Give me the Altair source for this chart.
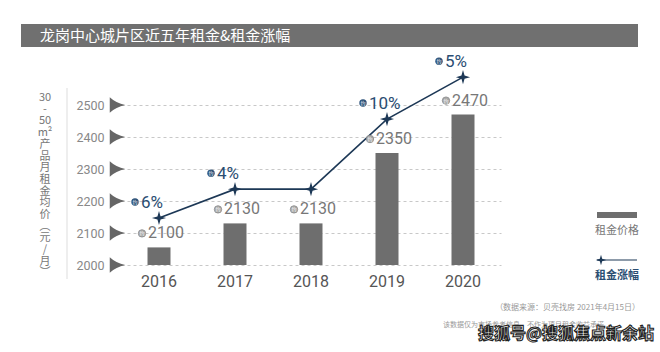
import altair as alt
import pandas as pd

# ---- data ----
years = ["2016", "2017", "2018", "2019", "2020"]
bar_values = [2055, 2130, 2130, 2350, 2470]          # bar heights as drawn
price_labels = ["2100", "2130", "2130", "2350", "2470"]
line_values = [2147, 2237, 2237, 2456, 2587]         # growth line as drawn on the price axis
pct_labels = ["6%", "4%", "", "10%", "5%"]
y_ticks = [2000, 2100, 2200, 2300, 2400, 2500]
y_title_lines = ["30", "-", "50", "m²", "产", "品", "月", "租", "金", "均", "价",
                 "︵", "元", "/", "月", "︶"]
title_text = "龙岗中心城片区近五年租金&租金涨幅"
legend_labels = ["租金价格", "租金涨幅"]
source_note = "（数据来源：贝壳找房 2021年4月15日）"
disclaimer = "该数据仅为市场参考信息，不作为项目租金收益承诺"
watermark = "搜狐号@搜狐焦点新余站"

df = pd.DataFrame({"year": years, "bar": bar_values, "price": price_labels,
                   "line": line_values, "pct": pct_labels})
ticks_df = pd.DataFrame({"bar": y_ticks})
one = pd.DataFrame({"k": [0]})

NUM_FONT = "Roboto"
CJK = "Noto Sans CJK SC"
NAVY = "#1d3856"
BAR = "#6e6e6e"

xscale = alt.Scale(paddingInner=0, paddingOuter=0)
yscale = alt.Scale(domain=[2000, 2600], nice=False, zero=False)

x_axis = alt.Axis(title=None, labelAngle=0, ticks=False, domain=False, labelPadding=8,
                  labelFont=NUM_FONT, labelFontSize=16, labelColor="#555")
y_axis = alt.Axis(title=None, values=y_ticks, format="d", grid=True, gridDash=[3, 3],
                  gridColor="#c8c8c8", domain=False, ticks=False, labelPadding=17,
                  labelFont=NUM_FONT, labelFontSize=12.5, labelColor="#888")

X = alt.X("year:N", scale=xscale, axis=x_axis, sort=years, title=None)


def Y(field):
    return alt.Y(field, scale=yscale, axis=y_axis, title=None)


bars = alt.Chart(df).mark_bar(size=23, color=BAR).encode(
    x=X, y=Y("bar:Q"), y2=alt.datum(2000))

tri_path = "M -1 -1 Q -0.2 -0.25 1 0 Q -0.2 0.25 -1 1 Z"
triangles = alt.Chart(ticks_df).mark_point(shape=tri_path, filled=True, size=240,
                                           color="#666", opacity=1).encode(
    x=alt.value(-3.5), y=Y("bar:Q"))

line = alt.Chart(df).mark_line(color=NAVY, strokeWidth=1.6).encode(
    x=X, y=Y("line:Q"))

star_path = "M0,-1 L0.22,-0.22 L1,0 L0.22,0.22 L0,1 L-0.22,0.22 L-1,0 L-0.22,-0.22 Z"
stars = alt.Chart(df).mark_point(shape=star_path, filled=True, size=200, color=NAVY,
                                 opacity=1).encode(x=X, y=Y("line:Q"))

pct_base = alt.Chart(df).transform_filter("datum.pct != ''")
pct_text = pct_base.mark_text(align="left", baseline="middle", dx=-18, dy=-15,
                              font=NUM_FONT, fontSize=17, color="#2a4d72").encode(
    x=X, y=Y("line:Q"), text="pct:N")
pct_icon = pct_base.mark_point(shape="circle", filled=True, size=55, color="#2d5279",
                               opacity=1, xOffset=-24, yOffset=-16).encode(
    x=X, y=Y("line:Q"))
pct_icon_t = pct_base.mark_text(text="约", fontSize=5, color="white", font=CJK,
                                dx=-24, dy=-16).encode(x=X, y=Y("line:Q"))

price_text = alt.Chart(df).mark_text(align="left", baseline="middle", dx=-11, dy=-14,
                                     font=NUM_FONT, fontSize=16, color="#777").encode(
    x=X, y=Y("bar:Q"), text="price:N")
price_icon = alt.Chart(df).mark_point(shape="circle", filled=True, size=55, color="#a8a8a8",
                                      stroke="#8a8a8a", strokeWidth=0.8,
                                      opacity=1, xOffset=-17, yOffset=-14).encode(
    x=X, y=Y("bar:Q"))
price_icon_t = alt.Chart(df).mark_text(text="约", fontSize=5, color="white", font=CJK,
                                       dx=-17, dy=-14).encode(x=X, y=Y("bar:Q"))

# ---- decorations ----
title_bar = alt.Chart(one).mark_rect(color="#707070").encode(
    x=alt.value(-100), x2=alt.value(517), y=alt.value(-49), y2=alt.value(-26))
title = alt.Chart(one).mark_text(text=title_text, align="left", baseline="middle",
                                 font=CJK, fontSize=15, color="white").encode(
    x=alt.value(-81), y=alt.value(-37.5))

sep = alt.Chart(one).mark_rule(color="#dddddd", strokeWidth=1).encode(
    x=alt.value(-54), y=alt.value(15), y2=alt.value(206))
ytitle = alt.Chart(one).mark_text(text="\n".join(y_title_lines), lineBreak="\n",
                                  lineHeight=11.7, align="center", baseline="top",
                                  font=CJK, fontSize=11, color="#777").encode(
    x=alt.value(-76), y=alt.value(19))

leg_rect = alt.Chart(one).mark_rect(color=BAR).encode(
    x=alt.value(476), x2=alt.value(516), y=alt.value(139), y2=alt.value(145))
leg_t1 = alt.Chart(one).mark_text(text=legend_labels[0], font=CJK, fontSize=11,
                                  color="#777", baseline="middle").encode(
    x=alt.value(496), y=alt.value(158))
leg_line = alt.Chart(one).mark_rule(color=NAVY, strokeWidth=1.2).encode(
    x=alt.value(476), x2=alt.value(516), y=alt.value(187))
leg_star = alt.Chart(one).mark_point(shape=star_path, filled=True, size=110, color=NAVY,
                                     opacity=1).encode(x=alt.value(480), y=alt.value(187))
leg_t2 = alt.Chart(one).mark_text(text=legend_labels[1], font=CJK, fontSize=11,
                                  color="#2a4d72", fontWeight="bold", baseline="middle").encode(
    x=alt.value(496), y=alt.value(203))

note1 = alt.Chart(one).mark_text(text=source_note, font=CJK, fontSize=8, color="#999",
                                 align="right", baseline="middle").encode(
    x=alt.value(519), y=alt.value(235))
note2 = alt.Chart(one).mark_text(text=disclaimer, font=CJK, fontSize=7, color="#999",
                                 align="left", baseline="middle").encode(
    x=alt.value(322), y=alt.value(252))
wm = alt.Chart(one).mark_text(text=watermark, font=CJK, fontSize=16, fontWeight="bold",
                              color="white", stroke="#222", strokeWidth=1.1,
                              align="left", baseline="middle").encode(
    x=alt.value(357), y=alt.value(261))

chart = alt.layer(
    bars, triangles, line, stars, pct_icon, pct_icon_t, pct_text,
    price_icon, price_icon_t, price_text,
    title_bar, title, sep, ytitle, leg_rect, leg_t1, leg_line, leg_star, leg_t2,
    note1, note2, wm
).properties(
    width=380, height=192,
    padding={"left": 121, "top": 73, "right": 159, "bottom": 87},
    autosize=alt.AutoSizeParams(type="none"),
    background="white"
).configure_view(stroke=None)

chart.save("out.html", embed_options={"renderer": "svg", "actions": False})
